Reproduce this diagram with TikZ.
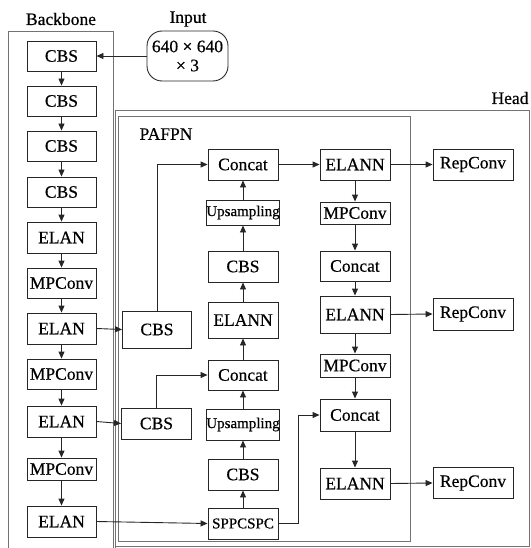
\documentclass[tikz,border=0pt]{standalone}
\usepackage{fontspec}
\setmainfont{Liberation Serif}[FakeBold=0.5]
\usetikzlibrary{arrows.meta}
\begin{document}
\begin{tikzpicture}[x=1pt,y=-1pt,
  blk/.style={draw=black!85,line width=0.9pt,minimum width=70pt,minimum height=31pt,inner sep=0pt,font=\fontsize{17.5}{19}\selectfont},
  frame/.style={draw=black!55,line width=1pt},
  lbl/.style={font=\fontsize{17.5}{19}\selectfont,inner sep=0pt},
  arr/.style={draw=black!85,line width=0.9pt,-{Triangle[length=7pt,width=6pt]}},
  ln/.style={draw=black!85,line width=0.9pt}]
\useasboundingbox (0,0) rectangle (530,548);
% frames
\draw[frame] (8,32) -- (8,552) (113,552) -- (113,32) -- (8,32);
\draw[frame] (115.5,552) -- (115.5,111) -- (529,111) -- (529,546) -- (115.5,546);
\draw[frame] (118.5,117) rectangle (410,541);
% labels
\node[lbl] (lbb) at (61,19) {Backbone};
\node[lbl] (lin) at (188,19) {Input};
\node[lbl] (lhd) at (510,98) {Head};
\node[lbl] (lpa) at (166,134) {PAFPN};
% input
\node[draw=black!85,line width=0.9pt,rounded corners=15pt,minimum width=81pt,minimum height=50pt,inner sep=0pt,align=center,font=\fontsize{17.5}{19}\selectfont] (in) at (187.5,56) {640 × 640\\× 3};
% backbone
\node[blk,minimum width=69pt,minimum height=30pt] (b1) at (61.5,56) {CBS};
\node[blk,minimum width=69pt,minimum height=30pt] (b2) at (61.5,101) {CBS};
\node[blk,minimum width=69pt,minimum height=30pt] (b3) at (61.5,146) {CBS};
\node[blk,minimum width=69pt,minimum height=30pt] (b4) at (61.5,192) {CBS};
\node[blk,minimum width=69pt] (b5) at (61.5,237.5) {ELAN};
\node[blk,minimum width=69pt,minimum height=30pt] (b6) at (61.5,283) {MPConv};
\node[blk,minimum width=69pt] (b7) at (61.5,328.5) {ELAN};
\node[blk,minimum width=69pt,minimum height=30pt] (b8) at (61.5,374) {MPConv};
\node[blk,minimum width=69pt] (b9) at (61.5,421.5) {ELAN};
\node[blk,minimum width=69pt,minimum height=22pt] (b10) at (61.5,469) {MPConv};
\node[blk,minimum width=69pt] (b11) at (61.5,521.5) {ELAN};
% lateral CBS
\node[blk,minimum width=69pt,minimum height=37pt] (l1) at (157,329.5) {CBS};
\node[blk] (l2) at (156.5,423.5) {CBS};
% middle column
\node[blk] (m1) at (243,164.5) {Concat};
\node[blk,minimum height=25pt,font=\fontsize{15}{16}\selectfont] (m2) at (243,212.5) {Upsampling};
\node[blk] (m3) at (243,266.5) {CBS};
\node[blk,minimum height=36pt] (m4) at (243,320) {ELANN};
\node[blk,minimum height=30pt] (m5) at (243,375) {Concat};
\node[blk,font=\fontsize{15}{16}\selectfont] (m6) at (243,424.5) {Upsampling};
\node[blk] (m7) at (243,474.5) {CBS};
\node[blk,font=\fontsize{15}{16}\selectfont] (m8) at (243,523.5) {SPPCSPC};
% right column
\node[blk] (r1) at (355,164.5) {ELANN};
\node[blk,minimum height=22pt] (r2) at (355,213) {MPConv};
\node[blk,minimum height=30pt] (r3) at (355,266) {Concat};
\node[blk,minimum height=37pt] (r4) at (355,314.5) {ELANN};
\node[blk,minimum height=23pt] (r5) at (355,365.5) {MPConv};
\node[blk,minimum height=32pt] (r6) at (355,415) {Concat};
\node[blk] (r7) at (355,483.5) {ELANN};
% RepConv
\node[blk,minimum width=80pt] (c1) at (473,164.5) {RepConv};
\node[blk,minimum width=80pt,minimum height=32pt] (c2) at (473,314) {RepConv};
\node[blk,minimum width=80pt] (c3) at (473,483) {RepConv};
% connectors
\draw[arr] (in.west) -- (b1.east);
\foreach \a/\b in {b1/b2,b2/b3,b3/b4,b4/b5,b5/b6,b6/b7,b7/b8,b8/b9,b9/b10,b10/b11}
  \draw[arr] (\a.south) -- (\b.north);
\draw[arr] (b7.east) -- (l1.west);
\draw[arr] (b9.east) -- (l2.west);
\draw[arr] (b11.east) -- (m8.west);
\draw[arr] (l1.north) |- (m1.west);
\draw[arr] (l2.north) |- (m5.west);
\foreach \a/\b in {m2/m1,m3/m2,m4/m3,m5/m4,m6/m5,m7/m6,m8/m7}
  \draw[arr] (\a.north) -- (\b.south);
\draw[arr] (m1.east) -- (r1.west);
\foreach \a/\b in {r1/r2,r2/r3,r3/r4,r4/r5,r5/r6,r6/r7}
  \draw[arr] (\a.south) -- (\b.north);
\draw[arr] (r1.east) -- (c1.west);
\draw[arr] (r4.east) -- (c2.west);
\draw[arr] (r7.east) -- (c3.west);
\draw[arr] (m8.east) -- ++(20,0) |- (r6.west);
\end{tikzpicture}
\end{document}
